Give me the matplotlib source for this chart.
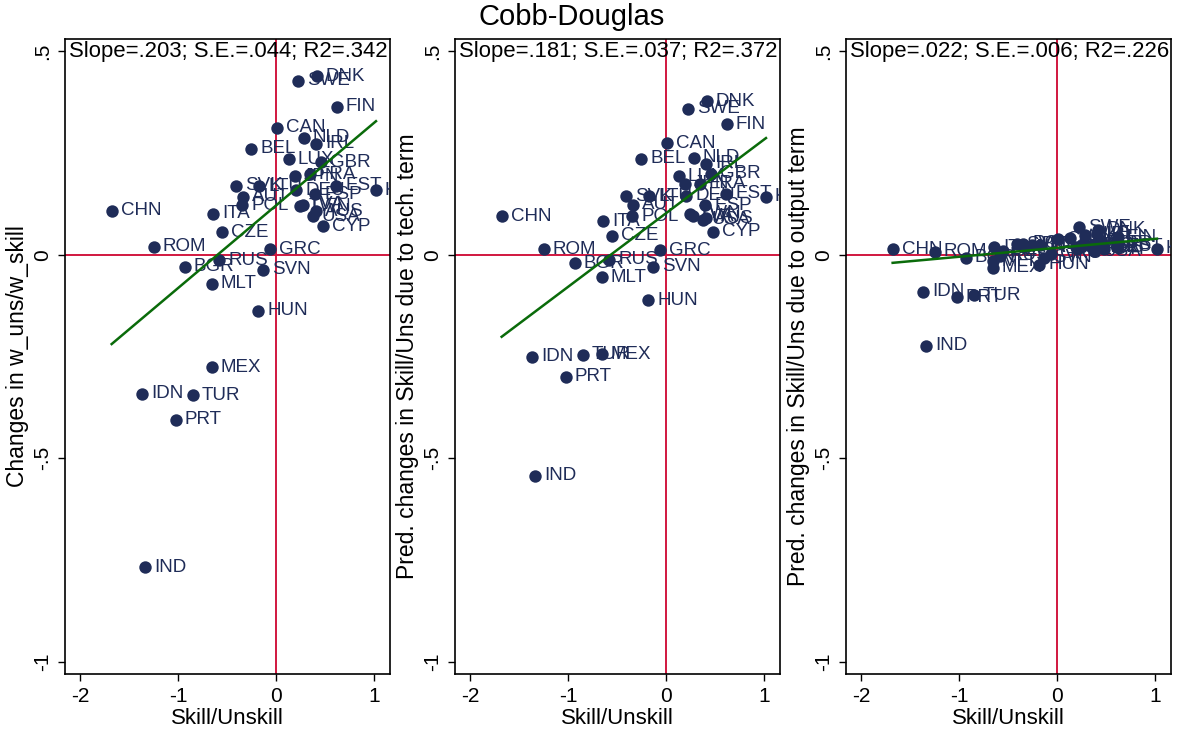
import numpy as np
import matplotlib.pyplot as plt
from matplotlib.transforms import offset_copy

plt.rcParams['font.family'] = ['Liberation Sans', 'DejaVu Sans']

# country codes and the skill/unskill change (same x for every panel)
countries = ["CHN", "ROM", "BGR", "ITA", "CZE", "RUS", "MLT", "MEX", "IDN", "TUR",
             "PRT", "IND", "HUN", "SVN", "GRC", "SVK", "LTU", "AUT", "POL", "BEL",
             "CAN", "LUX", "JPN", "DEU", "SWE", "NLD", "FRA", "DNK", "IRL", "GBR",
             "ESP", "EST", "FIN", "KOR", "CYP", "USA", "TWN", "LVA", "AUS"]
skill_unskill = [-1.677, -1.248, -0.932, -0.643, -0.551, -0.578, -0.656, -0.656, -1.366, -0.850,
                 -1.023, -1.336, -0.180, -0.136, -0.061, -0.405, -0.173, -0.337, -0.347, -0.252,
                 0.010, 0.129, 0.192, 0.206, 0.221, 0.282, 0.344, 0.415, 0.412, 0.463,
                 0.401, 0.616, 0.619, 1.020, 0.476, 0.375, 0.240, 0.272, 0.406]

# changes in w_uns/w_skill
wage_change = [0.108, 0.020, -0.029, 0.101, 0.055, -0.014, -0.071, -0.277, -0.342, -0.345,
               -0.405, -0.768, -0.137, -0.037, 0.014, 0.170, 0.168, 0.142, 0.121, 0.260,
               0.312, 0.234, 0.193, 0.159, 0.427, 0.287, 0.198, 0.439, 0.273, 0.227,
               0.148, 0.170, 0.363, 0.158, 0.070, 0.094, 0.119, 0.123, 0.107]

# predicted changes due to tech. term
tech_term = [0.094, 0.014, -0.021, 0.082, 0.047, -0.012, -0.055, -0.244, -0.250, -0.246,
             -0.300, -0.543, -0.112, -0.030, 0.011, 0.144, 0.144, 0.123, 0.094, 0.236,
             0.274, 0.193, 0.174, 0.145, 0.359, 0.238, 0.175, 0.377, 0.223, 0.199,
             0.121, 0.150, 0.320, 0.142, 0.057, 0.086, 0.101, 0.094, 0.090]

# predicted changes due to output term
output_term = [0.014, 0.007, -0.008, 0.019, 0.008, -0.002, -0.016, -0.032, -0.091, -0.099,
               -0.104, -0.224, -0.025, -0.007, 0.003, 0.026, 0.024, 0.019, 0.027, 0.024,
               0.038, 0.041, 0.019, 0.014, 0.068, 0.049, 0.022, 0.062, 0.050, 0.028,
               0.027, 0.020, 0.043, 0.015, 0.013, 0.008, 0.018, 0.029, 0.017]

slopes = [0.203, 0.181, 0.022]
intercepts = [0.121, 0.102, 0.017]
notes = ["Slope=.203; S.E.=.044; R2=.342",
         "Slope=.181; S.E.=.037; R2=.372",
         "Slope=.022; S.E.=.006; R2=.226"]
ytitles = ["Changes in w_uns/w_skill",
           "Pred. changes in Skill/Uns due to tech. term",
           "Pred. changes in Skill/Uns due to output term"]

navy = "#1f2c58"
red = "#d1173f"
green = "#0a6b0a"

fig = plt.figure(figsize=(12.01, 7.32), dpi=100)
W, H = 1201, 732
lefts = [65, 455, 846]

x = np.array(skill_unskill)
for i, yvals in enumerate([wage_change, tech_term, output_term]):
    ax = fig.add_axes([lefts[i] / W, (H - 674) / H, 325 / W, 635 / H])
    y = np.array(yvals)

    ax.axhline(0, color=red, lw=1.4, zorder=1)
    ax.axvline(0, color=red, lw=1.4, zorder=1)

    ax.scatter(x, y, s=80, color=navy, zorder=3, linewidths=0)
    shift = offset_copy(ax.transData, fig=fig, x=9, y=0, units='dots')
    for c, xx, yy in zip(countries, x, y):
        ax.text(xx, yy, c, transform=shift, fontsize=13.5, color=navy,
                ha='left', va='center', clip_on=True, zorder=4)

    # fitted line over the range of the data
    xs = np.array([x.min(), x.max()])
    ax.plot(xs, intercepts[i] + slopes[i] * xs, color=green, lw=1.8, zorder=5)

    ax.text(0.012, 0.997, notes[i], transform=ax.transAxes, fontsize=15.9,
            ha='left', va='top', clip_on=True, zorder=6)

    ax.set_xlim(-2.153, 1.163)
    ax.set_ylim(-1.03, 0.53)
    ax.set_xticks([-2, -1, 0, 1])
    ax.set_xticklabels(["-2", "-1", "0", "1"], fontsize=15)
    ax.set_yticks([-1, -0.5, 0, 0.5])
    ax.set_yticklabels(["-1", "-.5", "0", ".5"], fontsize=15, rotation=90, va='center')
    ax.tick_params(direction='out', length=5, width=1, pad=4)
    ax.set_xlabel("Skill/Unskill", fontsize=16, labelpad=2)
    ax.set_ylabel(ytitles[i], fontsize=16.5, labelpad=3)
    for sp in ax.spines.values():
        sp.set_linewidth(1.2)

fig.text(572 / W, 1 - 17 / H, "Cobb-Douglas", fontsize=21, ha='center', va='center')

fig.savefig("out.png", dpi=100)
